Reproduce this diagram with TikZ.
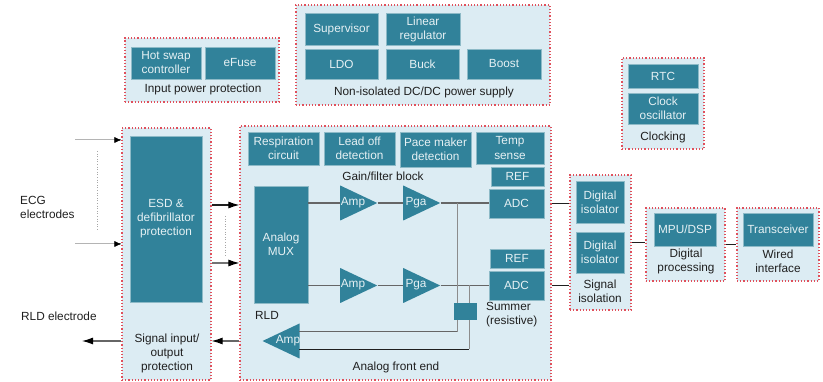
\documentclass[tikz,border=0pt]{standalone}
\usepackage{fontspec}
\setmainfont{Liberation Sans}
\usetikzlibrary{arrows.meta,shapes.geometric}
\definecolor{panelblue}{HTML}{DCECF3}
\definecolor{blockteal}{HTML}{31829A}
\definecolor{blockedge}{HTML}{8DBAC7}
\definecolor{blocktext}{HTML}{E6F1F4}
\definecolor{panelred}{HTML}{E0505C}
\definecolor{inkdark}{HTML}{1F1F1F}
\definecolor{inlinegray}{HTML}{B4B4B4}
\tikzset{
  panel/.style={draw=panelred, dotted, line width=1.2pt, fill=panelblue, inner sep=0pt},
  blockbox/.style={draw=blockedge, line width=0.6pt, fill=blockteal, text=blocktext, align=center, inner sep=0pt},
  ampshape/.style={shape=isosceles triangle, isosceles triangle stretches, fill=blockteal, inner sep=0pt, minimum width=35pt, minimum height=37pt},
  amptext/.style={text=blocktext, inner sep=0pt},
  caption/.style={text=inkdark, align=center, inner sep=0pt},
  sigline/.style={draw=black!60, line width=1.1pt},
  wireline/.style={draw=inkdark, line width=0.9pt},
  feedline/.style={draw=black!45, line width=0.8pt},
  inarrow/.style={color=inlinegray, line width=1pt},
  intip/.style={-{Latex[length=7pt,width=6pt]}, draw=black, line width=0.6pt},
  busarrow/.style={line width=1.1pt, -{Latex[color=black,length=11pt,width=7pt]}},
  skipdots/.style={draw=black!35, dotted, line width=0.6pt}
}
\begin{document}
\begin{tikzpicture}[x=1pt, y=-1pt, every node/.style={font=\fontsize{11.8}{14}\selectfont}]
  \useasboundingbox (0,0) rectangle (823,382);
  % panels
  \foreach \nm/\cx/\cy/\bw/\bh in {inpwr/202/70/154/64, dcdc/423/55/254/100, clocking/663/103.5/82/91,
      esdpanel/166.5/254/89/252, afe/395.5/253/311/254, sigiso/600.5/242.5/61/135,
      digproc/685.5/244.5/79/73, wired/778/244.5/82/73} {
    \node[panel, minimum width=\bw pt, minimum height=\bh pt] (\nm) at (\cx,\cy) {};
  }
  % amplifiers
  \node[ampshape, anchor=west] (ampa) at (340,203) {};
  \node[ampshape, anchor=west] (pgaa) at (403,203) {};
  \node[ampshape, anchor=west] (ampb) at (340,285.5) {};
  \node[ampshape, anchor=west] (pgab) at (403,285.5) {};
  \node[ampshape, shape border rotate=180, anchor=west] (ampc) at (262,341) {};
  % blocks
  \foreach \nm/\cx/\cy/\bw/\bh/\lab in {hotswap/166/63/70/32/{Hot swap\\controller}, efuse/240/63/70/32/eFuse,
      supervisor/341.5/29/73/32/Supervisor, linreg/423/29/74/32/{Linear\\regulator},
      ldo/341.5/64/73/30/LDO, buck/422.5/64/73/30/Buck, boost/504/64/74/30/Boost,
      rtc/663/76/70/24/RTC, clkosc/663/108.5/70/31/{Clock\\oscillator},
      esd/166/219/72/166/{ESD \&\\defibrillator\\protection},
      resp/283.5/148.5/71/33/{Respiration\\circuit}, leadoff/359.5/148.5/71/33/{Lead off\\detection},
      pace/435.5/149.5/71/35/{Pace maker\\detection}, temp/510/148/68/32/{Temp\\sense},
      refa/517.5/176.5/53/19/REF, adca/516.5/203.5/55/29/ADC, refb/517/258.5/54/19/REF, adcb/516.5/285.5/55/29/ADC,
      mux/281/244.5/54/117/{Analog\\MUX},
      digisoa/600/202/48/42/{Digital\\isolator}, digisob/600/252.5/48/41/{Digital\\isolator},
      mpu/685/229.5/62/33/{MPU/DSP}, xcvr/778/229.5/70/33/Transceiver} {
    \node[blockbox, minimum width=\bw pt, minimum height=\bh pt] (\nm) at (\cx,\cy) {\lab};
  }
  % signal path
  \draw[sigline] (ampa.west -| mux.east) -- (ampa.west);
  \draw[sigline] (ampb.west -| mux.east) -- (ampb.west);
  \draw[sigline] (ampa.east) -- (pgaa.west);
  \draw[sigline] (ampb.east) -- (pgab.west);
  \draw[sigline] (pgaa.east) -- (pgaa.east -| adca.west);
  \draw[sigline] (pgab.east) -- (pgab.east -| adcb.west);
  \draw[wireline] (afe.east |- adca) -- (sigiso.west |- adca);
  \draw[wireline] (afe.east |- adcb) -- (sigiso.west |- adcb);
  \draw[wireline] (sigiso.east) -- (digproc.west |- sigiso.east);
  \draw[wireline] (digproc.east) -- (wired.west);
  % summer feedback
  \coordinate (taila) at (457,203);
  \coordinate (tailb) at (469,285.5);
  \coordinate (ampcin) at (299,332);
  \coordinate (ampcref) at (299,349);
  \draw[feedline] (taila) -- (taila |- ampcin);
  \draw[sigline, line width=1pt] (taila |- ampcin) -- (ampcin);
  \draw[feedline] (tailb) -- (tailb |- ampcref);
  \draw[wireline] (tailb |- ampcref) -- (ampcref);
  \node[blockbox, draw=none, minimum width=23pt, minimum height=17pt] (summer) at (465.5,311.5) {};
  % amp labels
  \foreach \nm/\cx/\cy/\lab in {ampalab/353/203/Amp, pgaalab/416/203/Pga, ampblab/353/285/Amp, pgablab/416/285/Pga, ampclab/288/341/Amp} {
    \node[amptext] (\nm) at (\cx,\cy) {\lab};
  }
  % input and output arrows
  \coordinate (ecgtop) at (75,140);
  \coordinate (ecgbot) at (75,244);
  \coordinate (rldout) at (82,341);
  \draw[inarrow] (ecgtop) -- (esdpanel.west |- ecgtop);
  \draw[inarrow] (ecgbot) -- (esdpanel.west |- ecgbot);
  \draw[intip] (115,140) -- (esdpanel.west |- ecgtop);
  \draw[intip] (115,244) -- (esdpanel.west |- ecgbot);
  \draw[busarrow, draw=inkdark] (esdpanel.east |- 0,205) -- (afe.west |- 0,205);
  \draw[busarrow, draw=black!55] (esdpanel.east |- 0,263) -- (afe.west |- 0,263);
  \draw[busarrow, draw=black!60] (afe.west |- rldout) -- (esdpanel.east |- rldout);
  \draw[busarrow, draw=black!60] (esdpanel.west |- rldout) -- (rldout);
  \draw[skipdots] (97,151) -- (97,231);
  \draw[skipdots] (225,216) -- (225,257);
  % captions
  \foreach \nm/\cx/\cy/\lab in {inpwrcap/203/89/Input power protection, dcdccap/424/92/{Non-isolated DC/DC power supply},
      clockcap/663/137/Clocking, esdcap/167/353/{Signal input/\\output\\protection},
      gaincap/383/176/{Gain/filter block}, afecap/396/367/Analog front end,
      sigisocap/600/291/{Signal\\isolation}, digproccap/686/261/{Digital\\processing}, wiredcap/778/261/{Wired\\interface}} {
    \node[caption] (\nm) at (\cx,\cy) {\lab};
  }
  \node[caption, anchor=west, align=left] (ecglab) at (20,207.5) {ECG\\electrodes};
  \node[caption, anchor=west] (rldlab) at (21,316) {RLD electrode};
  \node[caption, anchor=west] (rldtag) at (255,315) {RLD};
  \node[caption, anchor=west, align=left] (sumlab) at (486,315) {Summer\\(resistive)};
\end{tikzpicture}
\end{document}
